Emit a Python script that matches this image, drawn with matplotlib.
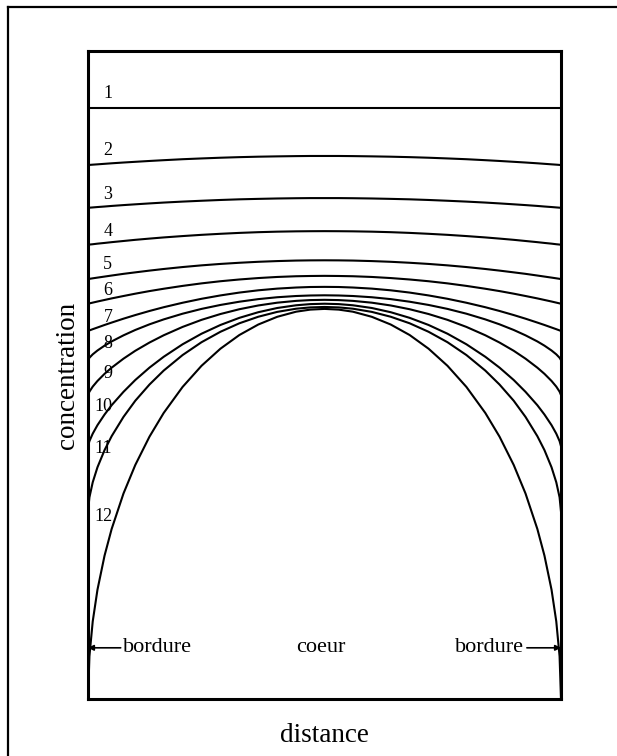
import numpy as np
import matplotlib
matplotlib.use("Agg")
import matplotlib.pyplot as plt
from matplotlib.lines import Line2D

plt.rcParams['font.family'] = ['Liberation Serif', 'DejaVu Serif']

# distance from the left border to the centre (half profile, 0 .. 0.5)
x_half = [0, 0.003, 0.01, 0.02, 0.035, 0.05, 0.075, 0.1, 0.13, 0.16, 0.2,
          0.24, 0.28, 0.32, 0.36, 0.4, 0.44, 0.47, 0.5]

# concentration profiles (0 = bottom of the box, 100 = top)
c1 = [91.2] * 19
c2 = [82.4, 82.42, 82.46, 82.51, 82.59, 82.67, 82.79, 82.9, 83.03, 83.15, 83.3,
      83.42, 83.53, 83.62, 83.69, 83.74, 83.78, 83.8, 83.8]
c3 = [75.8, 75.82, 75.86, 75.92, 76.0, 76.09, 76.22, 76.34, 76.48, 76.61, 76.76,
      76.89, 77.01, 77.11, 77.18, 77.24, 77.28, 77.3, 77.3]
c4 = [70.1, 70.13, 70.18, 70.27, 70.38, 70.5, 70.68, 70.86, 71.05, 71.23, 71.44,
      71.63, 71.79, 71.93, 72.04, 72.12, 72.17, 72.19, 72.2]
c5 = [64.8, 64.84, 64.92, 65.03, 65.19, 65.35, 65.61, 65.84, 66.11, 66.36, 66.66,
      66.92, 67.14, 67.32, 67.47, 67.58, 67.66, 67.69, 67.7]
c6 = [61.0, 61.05, 61.17, 61.34, 61.58, 61.82, 62.19, 62.55, 62.95, 63.31, 63.75,
      64.14, 64.47, 64.74, 64.96, 65.13, 65.24, 65.28, 65.3]
c7 = [56.8, 56.88, 57.07, 57.33, 57.72, 58.09, 58.69, 59.25, 59.88, 60.46, 61.15,
      61.76, 62.28, 62.72, 63.07, 63.33, 63.5, 63.58, 63.6]
c8 = [52.3, 52.66, 53.19, 53.78, 54.53, 55.18, 56.12, 56.95, 57.82, 58.58, 59.46,
      60.2, 60.81, 61.31, 61.71, 62.0, 62.19, 62.27, 62.3]
c9 = [46.9, 47.43, 48.21, 49.08, 50.18, 51.13, 52.52, 53.74, 55.01, 56.13, 57.42,
      58.51, 59.41, 60.15, 60.73, 61.16, 61.44, 61.56, 61.6]
c10 = [39.0, 39.8, 40.95, 42.26, 43.9, 45.34, 47.4, 49.23, 51.14, 52.81, 54.74,
       56.37, 57.72, 58.82, 59.69, 60.34, 60.76, 60.94, 61.0]
c11 = [28.9, 31.12, 33.45, 35.76, 38.41, 40.56, 43.53, 46.03, 48.53, 50.68, 53.08,
       55.06, 56.67, 57.98, 58.99, 59.74, 60.23, 60.43, 60.5]
c12 = [0, 6.59, 11.98, 16.86, 22.13, 26.24, 31.71, 36.12, 40.49, 44.14, 48.16,
       51.42, 54.06, 56.17, 57.79, 58.98, 59.77, 60.09, 60.2]
curves = [c1, c2, c3, c4, c5, c6, c7, c8, c9, c10, c11, c12]

labels = ['1', '2', '3', '4', '5', '6', '7', '8', '9', '10', '11', '12']
label_x = [0.042] * 9 + [0.032] * 3
label_y = [93.4, 84.6, 77.8, 72.1, 67.0, 63.0, 58.8, 54.8, 50.2, 45.1, 38.6, 28.2]

fig = plt.figure(figsize=(6.17, 7.56), dpi=100)
ax = fig.add_axes([88 / 617, 57 / 756, 473 / 617, 648 / 756])

xh = np.array(x_half)
# profiles are symmetric about the core: right half is the mirror of the left
xs = np.concatenate([xh, 1 - xh[::-1][1:]])
for c in curves:
    ch = np.array(c)
    ys = np.concatenate([ch, ch[::-1][1:]])
    ax.plot(xs, ys, color='black', lw=1.5, solid_joinstyle='round')

for t, lx, ly in zip(labels, label_x, label_y):
    ax.text(lx, ly, t, ha='center', va='center', fontsize=13)

ax.text(0.492, 7.9, 'coeur', ha='center', va='center', fontsize=16)
ax.annotate('bordure', xy=(0.0, 7.9), xytext=(0.075, 7.9), ha='left', va='center',
            fontsize=16, arrowprops=dict(arrowstyle='-|>', lw=1.2, color='black',
                                         mutation_scale=8, shrinkA=0, shrinkB=0))
ax.annotate('bordure', xy=(1.0, 7.9), xytext=(0.922, 7.9), ha='right', va='center',
            fontsize=16, arrowprops=dict(arrowstyle='-|>', lw=1.2, color='black',
                                         mutation_scale=8, shrinkA=0, shrinkB=0))

ax.set_xlim(0, 1)
ax.set_ylim(0, 100)
ax.set_xticks([])
ax.set_yticks([])
for s in ax.spines.values():
    s.set_linewidth(2.2)
ax.set_xlabel('distance', fontsize=19.5, labelpad=17)
ax.set_ylabel('concentration', fontsize=19.5, labelpad=6)

# outer frame (only the left and top sides are visible)
fig.add_artist(Line2D([8 / 617, 8 / 617], [0, 1 - 7 / 756], color='black', lw=1.6))
fig.add_artist(Line2D([8 / 617, 1], [1 - 7 / 756, 1 - 7 / 756], color='black', lw=1.6))

fig.savefig('out.png', dpi=100)
